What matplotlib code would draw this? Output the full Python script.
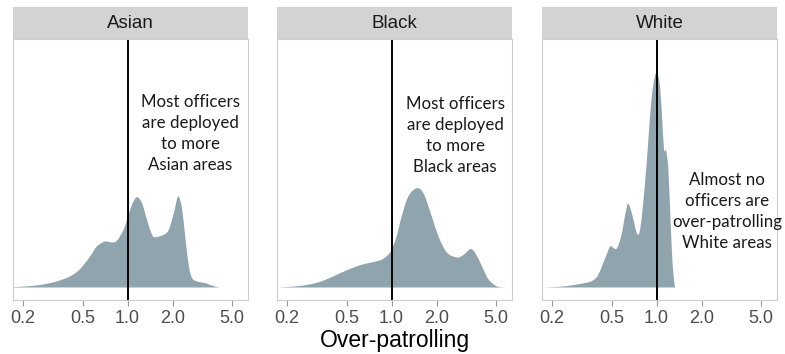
import numpy as np
import matplotlib.pyplot as plt
from matplotlib.path import Path
from matplotlib.patches import PathPatch

# density curves (x = over-patrolling ratio, y = density height)
asian_x = [0.171, 0.221, 0.272, 0.334, 0.411, 0.480, 0.561, 0.622, 0.707, 0.785, 0.848, 0.940,
           1.0, 1.07, 1.155, 1.249, 1.349, 1.458, 1.535, 1.747, 1.888, 2.040, 2.182, 2.321,
           2.444, 2.574, 2.710, 2.929, 3.332, 3.600, 4.097]
asian_y = [0.33, 1.33, 3.0, 6.0, 11.0, 18.3, 31.0, 41.0, 46.0, 45.0, 46.7, 57.7,
           69.3, 82.7, 90.3, 84.3, 67.7, 52.7, 50.3, 52.7, 57.7, 74.3, 91.0, 77.7,
           47.7, 21.0, 9.3, 6.0, 4.3, 2.3, 0.0]

black_x = [0.1726, 0.2234, 0.2748, 0.3378, 0.4153, 0.5107, 0.6281, 0.7333, 0.8562, 0.9496,
           1.0, 1.081, 1.168, 1.295, 1.473, 1.634, 1.812, 2.062, 2.346, 2.740, 3.038,
           3.369, 3.640, 4.036, 4.476, 5.093, 5.794]
black_y = [0.0, 1.0, 2.7, 6.0, 11.7, 17.7, 22.7, 25.0, 27.7, 32.7,
           37.7, 51.0, 71.0, 91.0, 99.3, 94.3, 76.0, 51.0, 35.0, 30.0, 32.7,
           38.3, 34.3, 21.0, 7.7, 1.0, 0.0]

white_x = [0.1717, 0.2234, 0.2748, 0.3378, 0.3746, 0.4049, 0.4374, 0.4606, 0.4901, 0.5161,
           0.5435, 0.5812, 0.6217, 0.6479, 0.6894, 0.741, 0.7803, 0.8345, 0.8790, 0.9254,
           0.9846, 1.042, 1.081, 1.121, 1.156, 1.198, 1.242, 1.282, 1.328]
white_y = [0.0, 0.7, 2.3, 4.7, 7.0, 12.0, 23.7, 32.0, 41.3, 39.3,
           39.3, 52.0, 75.3, 83.7, 72.0, 53.7, 60.3, 102.0, 145.3, 188.7,
           213.7, 207.0, 178.7, 138.7, 137.0, 118.7, 65.3, 22.0, 0.0]

groups = ["Asian", "Black", "White"]
notes = ["Most officers\nare deployed\nto more\nAsian areas",
         "Most officers\nare deployed\nto more\nBlack areas",
         "Almost no\nofficers are\nover-patrolling\nWhite areas"]
note_x = [2.64, 2.67, 2.96]
note_y = [154, 152, 76]
ticks = [0.2, 0.5, 1.0, 2.0, 5.0]
tick_labels = ["0.2", "0.5", "1.0", "2.0", "5.0"]

curves = [(asian_x, asian_y), (black_x, black_y), (white_x, white_y)]


# smooth closed area through the read points (bezier segments, catmull-rom tangents in log-x)
def smooth_area(xs, ys):
    lx = np.log10(xs)
    ys = np.array(ys, dtype=float)
    n = len(lx)
    verts = [(xs[0], 0.0), (xs[0], ys[0])]
    codes = [Path.MOVETO, Path.LINETO]
    for k in range(n - 1):
        k0 = max(k - 1, 0)
        k3 = min(k + 2, n - 1)
        c1x = lx[k] + (lx[k + 1] - lx[k0]) / 6
        c1y = ys[k] + (ys[k + 1] - ys[k0]) / 6
        c2x = lx[k + 1] - (lx[k3] - lx[k]) / 6
        c2y = ys[k + 1] - (ys[k3] - ys[k]) / 6
        verts += [(10 ** c1x, max(c1y, 0)), (10 ** c2x, max(c2y, 0)), (xs[k + 1], ys[k + 1])]
        codes += [Path.CURVE4] * 3
    verts += [(xs[-1], 0.0), (xs[0], 0.0)]
    codes += [Path.LINETO, Path.CLOSEPOLY]
    return Path(verts, codes)


W, H = 785, 354
fig = plt.figure(figsize=(7.85, 3.54), dpi=100)

lefts = [13, 277, 542]
pw = 235
top, bottom = 39, 300

for i in range(3):
    ax = fig.add_axes([lefts[i] / W, (H - bottom) / H, pw / W, (bottom - top) / H])
    xs, ys = curves[i]
    ax.set_xscale("log")
    ax.add_patch(PathPatch(smooth_area(xs, ys), facecolor="#90A4AE", lw=0))
    ax.axvline(1.0, color="black", lw=1.4)
    ax.set_xlim(0.171, 6.4)
    ax.set_ylim(-12.5, 248.5)
    ax.set_yticks([])
    ax.set_xticks(ticks)
    ax.set_xticklabels(tick_labels)
    ax.minorticks_off()
    ax.tick_params(axis="x", length=4, width=0.8, color="#999999", labelcolor="#4D4D4D",
                   labelsize=13, pad=3)
    for lab in ax.get_xticklabels():
        lab.set_family("Liberation Sans")
    for s in ax.spines.values():
        s.set_color("#CCCCCC")
        s.set_linewidth(0.8)
    ax.text(note_x[i], note_y[i], notes[i], ha="center", va="center", multialignment="center",
            fontsize=12.2, family="Lato", color="#1A1A1A", linespacing=1.4)

    # facet strip
    sx = fig.add_axes([lefts[i] / W, (H - top) / H, pw / W, 32 / H])
    sx.set_facecolor("#D3D3D3")
    sx.set_xticks([])
    sx.set_yticks([])
    for s in sx.spines.values():
        s.set_visible(False)
    sx.text(0.5, 0.5, groups[i], ha="center", va="center", fontsize=13.5,
            family="Liberation Sans", color="#1A1A1A", transform=sx.transAxes)

fig.text(394.5 / W, 1 - 340 / H, "Over-patrolling", ha="center", va="center",
         fontsize=16.5, family="Liberation Sans", color="black")

fig.savefig("out.png", dpi=100, facecolor="white")
